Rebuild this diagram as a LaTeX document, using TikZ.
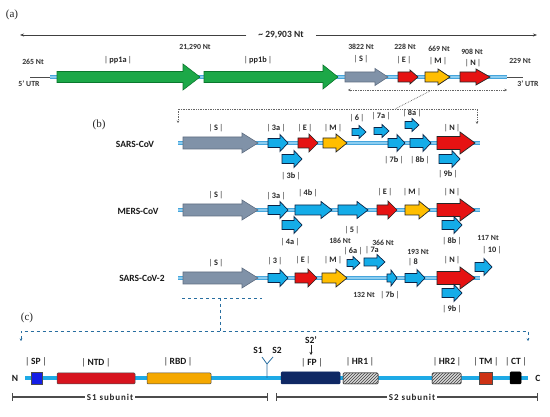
\documentclass[tikz,border=0pt]{standalone}
\usepackage{fontspec}
\setmainfont{Carlito}
\newfontfamily\serifpl{Liberation Serif}
\usetikzlibrary{arrows.meta,patterns}
\definecolor{cgreen}{RGB}{28,168,72}
\definecolor{cgreenD}{RGB}{10,120,45}
\definecolor{cgrey}{RGB}{128,146,168}
\definecolor{cgreyD}{RGB}{95,110,130}
\definecolor{cred}{RGB}{230,18,18}
\definecolor{cyel}{RGB}{255,190,0}
\definecolor{cblue}{RGB}{20,172,232}
\definecolor{cnavy}{RGB}{10,35,70}
\definecolor{cbar}{RGB}{70,165,220}
\definecolor{cbarL}{RGB}{140,205,240}
\definecolor{cdash}{RGB}{40,110,160}
\definecolor{cspike}{RGB}{30,170,230}
\definecolor{csp}{RGB}{20,30,230}
\definecolor{cntd}{RGB}{215,20,30}
\definecolor{crbd}{RGB}{245,168,0}
\definecolor{cfp}{RGB}{15,40,100}
\definecolor{ctm}{RGB}{205,50,20}
\newcommand{\blkarrow}[7]{\draw[#1] (#2,{#4-#6}) -- ({#3-#5},{#4-#6}) -- ({#3-#5},{#4-#7}) -- (#3,#4) -- ({#3-#5},{#4+#7}) -- ({#3-#5},{#4+#6}) -- (#2,{#4+#6}) -- cycle;}
\newcommand{\barlab}[1]{{\color{black!60}|}\,#1\,{\color{black!60}|}}
\tikzset{
  grn/.style={fill=cgreen,draw=cgreenD,line width=0.6pt},
  gry/.style={fill=cgrey,draw=cgreyD,line width=0.6pt},
  rdd/.style={fill=cred,draw=black!85,line width=0.7pt},
  yel/.style={fill=cyel,draw=black!85,line width=0.7pt},
  blu/.style={fill=cblue,draw=cnavy,line width=0.7pt},
  genome/.style={line width=4.5pt,cbar},
  genomehl/.style={line width=1.2pt,cbarL},
  lab/.style={font=\fontsize{8.3}{9}\selectfont\bfseries,text=black!85,inner sep=0pt},
  nt/.style={font=\fontsize{7.8}{9}\selectfont\bfseries,text=black!80,inner sep=0pt},
  rowlab/.style={font=\fontsize{9.5}{10}\selectfont\bfseries,text=black!90,inner sep=0pt},
  panel/.style={font=\serifpl\fontsize{11}{12}\selectfont,text=black!85,inner sep=0pt},
  clab/.style={font=\fontsize{9.5}{10}\selectfont\bfseries,text=black!90,inner sep=0pt},
  sub/.style={font=\fontsize{9}{10}\selectfont\bfseries\addfontfeature{LetterSpace=10},text=black!85,fill=white,inner sep=2pt},
  dotl/.style={densely dotted,black!60,line width=0.7pt},
  dashl/.style={dashed,cdash,line width=0.8pt},
}
\begin{document}
\begin{tikzpicture}[x=1pt,y=-1pt]
\useasboundingbox[fill=white] (0,0) rectangle (550,417);
% ---------------- panel (a)
\node[panel] (pa) at (12,15) {(a)};
\node[font=\fontsize{9.5}{10}\selectfont\bfseries,text=black!85,inner sep=0pt] (tot) at (281,35) {\char`~\ 29,903 Nt};
\coordinate (aL) at (20,35);
\coordinate (aR) at (537,35);
\draw[black!75,line width=0.7pt,-{Stealth[length=4pt,width=3pt]}] ([xshift=-12pt]tot.west) -- (aL);
\draw[black!75,line width=0.7pt,-{Stealth[length=4pt,width=3pt]}] ([xshift=12pt]tot.east) -- (aR);
\coordinate (g0) at (30,77);
\coordinate (g1) at (50,77);
\coordinate (g2) at (507,77);
\coordinate (g3) at (523,77);
\draw[black!70,line width=0.6pt] (g0) -- (g1);
\draw[black!70,line width=0.6pt] (g2) -- (g3);
\draw[genome] (g1) -- (g2);
\draw[genomehl] (g1) -- (g2);
\blkarrow{grn}{57}{200}{77}{17}{5.5}{13}
\blkarrow{grn}{204}{338}{77}{15}{5.5}{12}
\blkarrow{gry}{345}{388}{77}{13}{5}{8.5}
\blkarrow{rdd}{398}{418}{77}{8}{5}{7}
\blkarrow{yel}{425}{450}{77}{12}{5}{8}
\blkarrow{rdd}{460}{490}{77}{14}{5}{8}
\node[nt] (n265) at (33,62) {265 Nt};
\node[nt] (utr5) at (29,84) {5' UTR};
\node[nt] (n21) at (195,47) {21,290 Nt};
\node[lab] (lpp1a) at (118,60) {\barlab{pp1a}};
\node[lab] (lpp1b) at (258,60) {\barlab{pp1b}};
\node[nt] (n3822) at (361,47) {3822 Nt};
\node[lab] (laS) at (361,59) {\barlab{S}};
\node[nt] (n228) at (405,47) {228 Nt};
\node[lab] (laE) at (404,60) {\barlab{E}};
\node[nt] (n669) at (439,49) {669 Nt};
\node[lab] (laM) at (438,61) {\barlab{M}};
\node[nt] (n908) at (472,52) {908 Nt};
\node[lab] (laN) at (473,63) {\barlab{N}};
\node[nt] (n229) at (520,61) {229 Nt};
\node[nt] (utr3) at (528,84) {3' UTR};
\coordinate (d1) at (348,90);
\coordinate (d2) at (507,90);
\draw[dotl,{Stealth[length=2.5pt,width=2.5pt]}-{Stealth[length=2.5pt,width=2.5pt]}] (d1) -- (d2);
\coordinate (z0) at (430,91);
\coordinate (z1) at (395,109);
\coordinate (zl) at (178,109);
\coordinate (zr) at (477,109);
\coordinate (zlb) at (178,123);
\coordinate (zrb) at (477,124);
\draw[dotl] (z0) -- (z1);
\draw[dotl,{Stealth[length=2.5pt,width=2.5pt]}-{Stealth[length=2.5pt,width=2.5pt]}] (zlb) -- (zl) -- (zr) -- (zrb);
% ---------------- panel (b)
\node[panel] (pb) at (99,125) {(b)};
\node[rowlab] (r1) at (135,144) {SARS-CoV};
\node[rowlab] (r2) at (138,211) {MERS-CoV};
\node[rowlab] (r3) at (142,278) {SARS-CoV-2};
\foreach \yy/\nm in {143/b1,210/b2,278/b3}{
  \coordinate (\nm s) at (178,\yy);
  \coordinate (\nm e) at (480,\yy);
  \draw[genome] (\nm s) -- (\nm e);
  \draw[genomehl] (\nm s) -- (\nm e);
  \blkarrow{gry}{183}{258}{\yy}{16}{6}{10}
}
% SARS-CoV
\blkarrow{blu}{268}{288}{143}{8}{4.5}{8.5}
\blkarrow{blu}{282}{302}{159}{8}{4.5}{8.5}
\blkarrow{rdd}{298}{318}{143}{9}{5}{9}
\blkarrow{yel}{323}{347}{143}{11}{5}{9}
\blkarrow{blu}{352}{366}{132}{7}{3.5}{6.5}
\blkarrow{blu}{374}{389}{131}{7}{3.5}{6.5}
\blkarrow{blu}{405}{419}{125}{7}{3.5}{6.5}
\blkarrow{blu}{388}{405}{143}{8}{4.5}{8.5}
\blkarrow{blu}{410}{431}{143}{8}{4.5}{8.5}
\blkarrow{rdd}{437}{475}{143}{15}{6.5}{11}
\blkarrow{blu}{439}{460}{159}{8}{4.5}{8.5}
\node[lab] (s1S) at (216,128) {\barlab{S}};
\node[lab] (s13a) at (276,128) {\barlab{3a}};
\node[lab] (s13b) at (291,176) {\barlab{3b}};
\node[lab] (s1E) at (305,128) {\barlab{E}};
\node[lab] (s1M) at (333,128) {\barlab{M}};
\node[lab] (s16) at (357,118) {\barlab{6}};
\node[lab] (s17a) at (381,116) {\barlab{7a}};
\node[lab] (s18a) at (412,113) {\barlab{8a}};
\node[lab] (s17b) at (394,160) {\barlab{7b}};
\node[lab] (s18b) at (420,160) {\barlab{8b}};
\node[lab] (s1N) at (452,128) {\barlab{N}};
\node[lab] (s19b) at (448,174) {\barlab{9b}};
% MERS-CoV
\blkarrow{blu}{268}{288}{210}{8}{4.5}{8.5}
\blkarrow{blu}{282}{302}{225}{8}{4.5}{8.5}
\blkarrow{blu}{295}{332}{210}{11}{5}{8.5}
\blkarrow{blu}{338}{368}{210}{11}{5}{8.5}
\blkarrow{rdd}{377}{397}{210}{9}{5}{9}
\blkarrow{yel}{405}{430}{210}{11}{5}{9}
\blkarrow{rdd}{437}{475}{210}{15}{6.5}{11}
\blkarrow{blu}{442}{462}{225}{8}{4.5}{8.5}
\node[lab] (m1S) at (216,195) {\barlab{S}};
\node[lab] (m13a) at (276,196) {\barlab{3a}};
\node[lab] (m14b) at (308,193) {\barlab{4b}};
\node[lab] (m14a) at (290,242) {\barlab{4a}};
\node[lab] (m15) at (352,230) {\barlab{5}};
\node[lab] (m1E) at (385,192) {\barlab{E}};
\node[lab] (m1M) at (412,192) {\barlab{M}};
\node[lab] (m1N) at (452,192) {\barlab{N}};
\node[lab] (m18b) at (452,241) {\barlab{8b}};
% SARS-CoV-2
\blkarrow{blu}{268}{288}{278}{8}{4.5}{8.5}
\blkarrow{rdd}{295}{317}{278}{9}{5}{9}
\blkarrow{yel}{322}{347}{278}{11}{5}{9}
\blkarrow{blu}{347}{360}{263}{7}{3.5}{6.5}
\blkarrow{blu}{364}{385}{262}{8}{4}{7.5}
\blkarrow{blu}{387}{397}{278}{6}{4}{8}
\blkarrow{blu}{405}{425}{278}{8}{4.5}{8.5}
\blkarrow{rdd}{437}{475}{278}{15}{6.5}{11}
\blkarrow{blu}{442}{462}{293}{8}{4.5}{8.5}
\blkarrow{blu}{475}{492}{267}{8}{4.5}{8.5}
\node[lab] (c1S) at (216,263) {\barlab{S}};
\node[lab] (c13) at (275,261) {\barlab{3}};
\node[lab] (c1E) at (303,260) {\barlab{E}};
\node[lab] (c1M) at (333,260) {\barlab{M}};
\node[nt] (c186) at (340,241) {186 Nt};
\node[lab] (c16a) at (353,251) {\barlab{6a}};
\node[nt] (c366) at (383,243) {366 Nt};
\node[lab] (c17a) at (372,250) {{\color{black!60}|}\,7a};
\node[nt] (c132) at (364,295) {132 Nt};
\node[lab] (c17b) at (390,295) {\barlab{7b}};
\node[nt] (c193) at (418,252) {193 Nt};
\node[lab] (c18) at (413,262) {{\color{black!60}|}\,8};
\node[lab] (c1N) at (452,260) {\barlab{N}};
\node[lab] (c19b) at (452,309) {\barlab{9b}};
\node[nt] (c117) at (488,238) {117 Nt};
\node[lab] (c110) at (492,250) {\barlab{10}};
% connector to (c)
\coordinate (k1) at (182,298);
\coordinate (k2) at (262,298);
\coordinate (k3) at (220,298);
\coordinate (k4) at (220,331);
\coordinate (k5) at (21,331);
\coordinate (k6) at (528,331);
\coordinate (k7) at (21,341);
\coordinate (k8) at (528,341);
\draw[dashl] (k1) -- (k2);
\draw[dashl] (k3) -- (k4);
\draw[dashl,{Stealth[length=2.5pt,width=2.5pt]}-{Stealth[length=2.5pt,width=2.5pt]}] (k7) -- (k5) -- (k6) -- (k8);
% ---------------- panel (c)
\node[panel] (pc) at (27,318) {(c)};
\coordinate (sp0) at (25,378);
\coordinate (sp1) at (528,378);
\draw[line width=4.5pt,cspike] (sp0) -- (sp1);
\node[clab] (nN) at (15,378) {N};
\node[clab] (nC) at (538,378) {C};
\draw[fill=csp,draw=black!70,line width=0.5pt] (31,372) rectangle (42,384);
\draw[fill=cntd,draw=black!70,line width=0.5pt,rounded corners=1pt] (57,373) rectangle (135,384);
\draw[fill=crbd,draw=black!70,line width=0.5pt,rounded corners=1pt] (147,373) rectangle (211,384);
\draw[fill=cfp,draw=cfp,line width=0.5pt,rounded corners=1pt] (281,372) rectangle (340,384);
\draw[fill=black!15,draw=black!70,line width=0.5pt,rounded corners=1pt] (343,373) rectangle (378,384);
\draw[draw=black!70,line width=0.5pt,rounded corners=1pt,pattern=north east lines,pattern color=black!75] (343,373) rectangle (378,384);
\draw[fill=black!15,draw=black!70,line width=0.5pt,rounded corners=1pt] (432,373) rectangle (461,384);
\draw[draw=black!70,line width=0.5pt,rounded corners=1pt,pattern=north east lines,pattern color=black!75] (432,373) rectangle (461,384);
\draw[fill=ctm,draw=black!70,line width=0.5pt] (479,372) rectangle (492,384);
\draw[fill=black,draw=black,line width=0.5pt,rounded corners=1pt] (510,372) rectangle (521,384);
\node[clab] (cSP) at (36,362) {\barlab{SP}};
\node[clab] (cNTD) at (96,363) {\barlab{NTD}};
\node[clab] (cRBD) at (178,362) {\barlab{RBD}};
\node[clab] (cFP) at (312,363) {\barlab{FP}};
\node[clab] (cHR1) at (360,362) {\barlab{HR1}};
\node[clab] (cHR2) at (447,362) {\barlab{HR2}};
\node[clab] (cTM) at (486,362) {\barlab{TM}};
\node[clab] (cCT) at (516,362) {\barlab{CT}};
\node[clab] (cs1) at (258,350) {S1};
\node[clab] (cs2) at (277,350) {S2};
\node[clab] (cs2p) at (311,340) {S2'};
\coordinate (f0) at (267,378);
\coordinate (f1) at (267,364);
\coordinate (f2) at (262,357);
\coordinate (f3) at (273,357);
\draw[cdash,line width=0.8pt] (f0) -- (f1) -- (f2);
\draw[cdash,line width=0.8pt] (f1) -- (f3);
\coordinate (s2pt) at (311,355);
\draw[black!85,line width=0.7pt,-{Stealth[length=3pt,width=3pt]}] ([yshift=-1pt]cs2p.south) -- (s2pt);
% subunit brackets
\node[sub] (sub1) at (110,397) {S1 subunit};
\node[sub] (sub2) at (412,397) {S2 subunit};
\coordinate (b1l) at (12,397);
\coordinate (b1r) at (267,397);
\coordinate (b2l) at (276,397);
\coordinate (b2r) at (537,397);
\draw[black!70,line width=1.3pt] (b1l) -- (sub1.west) (sub1.east) -- (b1r);
\draw[black!70,line width=1.3pt] (b2l) -- (sub2.west) (sub2.east) -- (b2r);
\draw[black!70,line width=1pt] ([yshift=-4pt]b1l) -- ([yshift=4pt]b1l) ([yshift=-4pt]b1r) -- ([yshift=4pt]b1r);
\draw[black!70,line width=1pt] ([yshift=-4pt]b2l) -- ([yshift=4pt]b2l) ([yshift=-4pt]b2r) -- ([yshift=4pt]b2r);
\end{tikzpicture}
\end{document}
